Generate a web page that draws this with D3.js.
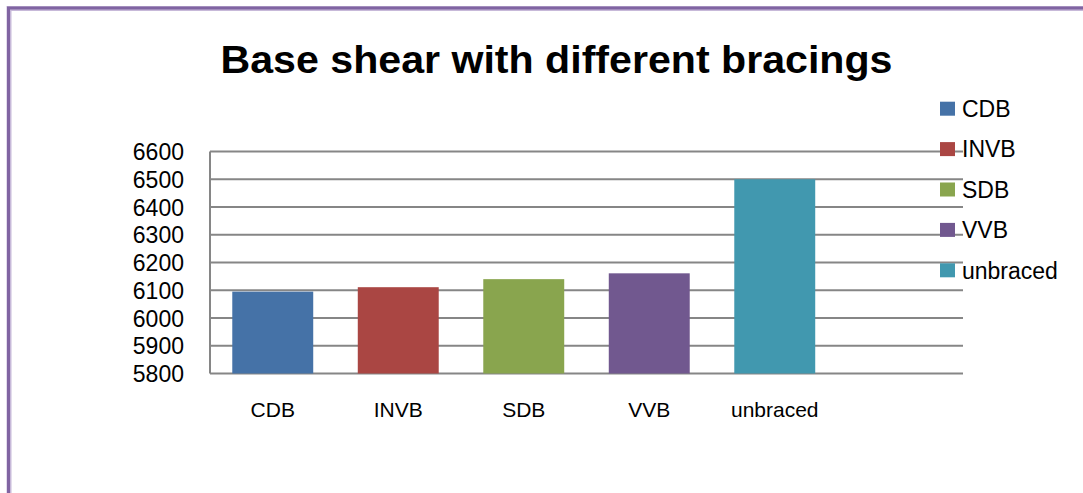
<!DOCTYPE html>
<html>
<head>
<meta charset="utf-8">
<script src="https://cdn.jsdelivr.net/npm/d3@7/dist/d3.min.js"></script>
<style>
  html, body { margin: 0; padding: 0; background: #fff; }
  svg { display: block; }
  text { font-family: "Liberation Sans", Arial, sans-serif; fill: #000; }
</style>
</head>
<body>
<svg id="chart" width="1083" height="493"></svg>
<script>
// Base shear (kN) for each bracing type
const categories = ["CDB", "INVB", "SDB", "VVB", "unbraced"];
const baseShear = [6095, 6111, 6140, 6161, 6500];
const colors = ["#4572A7", "#AA4643", "#89A54E", "#71588F", "#4198AF"];
const yTicks = [5800, 5900, 6000, 6100, 6200, 6300, 6400, 6500, 6600];
const title = "Base shear with different bracings";

const svg = d3.select("#chart");

// frame
svg.append("path")
  .attr("d", "M9,493 V8.5 H1083")
  .attr("fill", "none")
  .attr("stroke", "#c7b9d9")
  .attr("stroke-width", 5);
svg.append("path")
  .attr("d", "M8.5,493 V8 H1083")
  .attr("fill", "none")
  .attr("stroke", "#8064A2")
  .attr("stroke-width", 3);

const plot = { left: 210, right: 963, top: 151.5, bottom: 373.5 };
const slots = 6; // five categories plus one trailing empty slot
const step = (plot.right - plot.left) / slots;

const x = d3.scaleBand()
  .domain(categories)
  .range([plot.left, plot.left + step * categories.length])
  .padding(0);

const y = d3.scaleLinear()
  .domain([5800, 6600])
  .range([plot.bottom, plot.top]);

// gridlines
svg.append("g")
  .selectAll("line")
  .data(yTicks)
  .join("line")
  .attr("x1", plot.left)
  .attr("x2", plot.right)
  .attr("y1", d => y(d))
  .attr("y2", d => y(d))
  .attr("stroke", "#868686")
  .attr("stroke-width", 2);

// vertical axis line
svg.append("line")
  .attr("x1", plot.left).attr("x2", plot.left)
  .attr("y1", plot.top).attr("y2", plot.bottom)
  .attr("stroke", "#868686").attr("stroke-width", 2);

// y axis labels
const yAxis = d3.axisLeft(y).tickValues(yTicks).tickFormat(d3.format("d"))
  .tickSize(0).tickPadding(0);
const gy = svg.append("g")
  .attr("transform", `translate(184,0)`)
  .call(yAxis);
gy.select(".domain").remove();
gy.selectAll("text")
  .attr("font-size", 23)
  .attr("fill", "#000")
  .attr("dy", "0.35em");

// bars
const barW = step * 0.645;
svg.append("g")
  .selectAll("rect")
  .data(categories)
  .join("rect")
  .attr("x", d => x(d) + (x.bandwidth() - barW) / 2)
  .attr("width", barW)
  .attr("y", (d, i) => y(baseShear[i]))
  .attr("height", (d, i) => y(5800) - y(baseShear[i]))
  .attr("fill", (d, i) => colors[i]);

// x axis labels
const xAxis = d3.axisBottom(x).tickSize(0).tickPadding(0);
const gx = svg.append("g")
  .attr("transform", `translate(0,417)`)
  .call(xAxis);
gx.select(".domain").remove();
gx.selectAll("text")
  .attr("font-size", 21)
  .attr("fill", "#000")
  .attr("dy", 0);

// title
svg.append("text")
  .attr("x", 220.5)
  .attr("y", 72.5)
  .attr("font-size", 38.5)
  .attr("font-weight", "bold")
  .attr("textLength", 672)
  .attr("lengthAdjust", "spacingAndGlyphs")
  .text(title);

// legend
const legend = svg.append("g")
  .selectAll("g")
  .data(categories)
  .join("g")
  .attr("transform", (d, i) => `translate(940,${108.7 + i * 40.4})`);
legend.append("rect")
  .attr("x", 0).attr("y", -7)
  .attr("width", 15).attr("height", 14)
  .attr("fill", (d, i) => colors[i]);
legend.append("text")
  .attr("x", 22)
  .attr("y", 0)
  .attr("dy", "0.36em")
  .attr("font-size", 23)
  .text(d => d);
</script>
</body>
</html>
